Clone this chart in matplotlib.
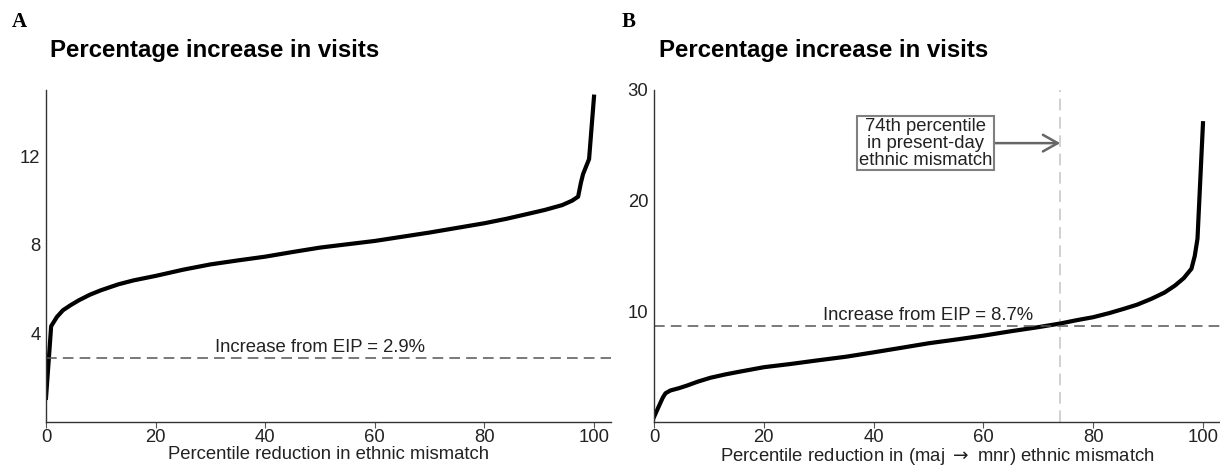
import numpy as np
import matplotlib.pyplot as plt

# panel A curve
pct_a = [0, 0.5, 0.94, 2, 3.1, 4.5, 6, 8, 10, 13.2, 16, 20, 25, 30, 35, 40, 45, 50, 55, 60,
         65, 70, 75, 80, 84, 87.7, 91, 94.2, 96, 97.1, 97.6, 98, 99.1, 100]
inc_a = [1.09, 2.8, 4.33, 4.75, 5.05, 5.28, 5.5, 5.75, 5.95, 6.22, 6.4, 6.6, 6.88, 7.12, 7.3, 7.47, 7.68, 7.88, 8.03, 8.18,
         8.37, 8.56, 8.77, 8.98, 9.18, 9.39, 9.58, 9.8, 10.0, 10.18, 10.8, 11.2, 11.88, 14.7]
eip_a = 2.9

# panel B curve
pct_b = [0, 0.5, 1.07, 1.6, 2.1, 3, 4.5, 6, 8, 10.3, 13, 15.3, 20, 25, 29.5, 35, 40.2, 45, 50.1, 55,
         60.1, 65, 70, 74, 77, 80, 83, 85.6, 88, 90.6, 93, 94.9, 96.5, 97.9, 98.5, 99, 100]
inc_b = [0.45, 1.0, 1.63, 2.2, 2.6, 2.85, 3.05, 3.29, 3.65, 4.0, 4.3, 4.52, 4.95, 5.25, 5.55, 5.9, 6.31, 6.7, 7.12, 7.45,
         7.81, 8.2, 8.57, 8.9, 9.2, 9.47, 9.85, 10.23, 10.6, 11.13, 11.7, 12.33, 13.0, 13.85, 15.0, 16.56, 27.0]
eip_b = 8.7
pct_today = 74

plt.rcParams['font.family'] = ['Liberation Sans', 'DejaVu Sans']

fig = plt.figure(figsize=(12.2, 4.66), dpi=100)
ax_a = fig.add_axes([46/1220, 1-422/466, 565/1220, 332/466])
ax_b = fig.add_axes([654/1220, 1-422/466, 566/1220, 332/466])

FS = 13.3

def style(ax, ylim, yticks, xlabel):
    ax.set_xlim(0, 103.1)
    ax.set_ylim(*ylim)
    ax.set_yticks(yticks)
    ax.set_xticks([0, 20, 40, 60, 80, 100])
    for s in ['top', 'right']:
        ax.spines[s].set_visible(False)
    for s in ['left', 'bottom']:
        ax.spines[s].set_color('#333333')
        ax.spines[s].set_linewidth(1.0)
    ax.tick_params(axis='y', length=0, labelsize=FS, pad=4, colors='#222222')
    ax.tick_params(axis='x', length=4, width=0.8, color='#555555', labelsize=FS, pad=1, labelcolor='#222222')
    ax.set_xlabel(xlabel, fontsize=FS, labelpad=0, color='#222222')

# A
ax_a.plot(pct_a, inc_a, color='black', lw=3, solid_joinstyle='round')
ax_a.axhline(eip_a, color='#555555', lw=1.1, ls=(0, (7, 4)))
ax_a.text(50, eip_a + 0.1, 'Increase from EIP = 2.9%', ha='center', va='bottom', fontsize=FS, color='#222222')
style(ax_a, (0, 15.0), [4, 8, 12], 'Percentile reduction in ethnic mismatch')

# B
ax_b.axvline(pct_today, color='#c8c8c8', lw=1.2, ls=(0, (7, 4)))
ax_b.plot(pct_b, inc_b, color='black', lw=3, solid_joinstyle='round')
ax_b.axhline(eip_b, color='#555555', lw=1.1, ls=(0, (7, 4)))
ax_b.text(50, eip_b + 0.2, 'Increase from EIP = 8.7%', ha='center', va='bottom', fontsize=FS, color='#222222')
ax_b.annotate('74th percentile\nin present-day\nethnic mismatch', xy=(pct_today, 25.2), xytext=(49.5, 25.2),
              ha='center', va='center', fontsize=FS, color='#222222', linespacing=1.0,
              bbox=dict(boxstyle='square,pad=0.1', fc='white', ec='#808080', lw=1.5),
              arrowprops=dict(arrowstyle='->,head_length=0.8,head_width=0.45', color='#666666', lw=1.8,
                              shrinkA=0, shrinkB=0))
style(ax_b, (0, 30), [10, 20, 30], 'Percentile reduction in (maj $\\rightarrow$ mnr) ethnic mismatch')

# titles and panel letters
for x0, letter in [(12, 'A'), (622, 'B')]:
    fig.text(x0/1220, 1-27/466, letter, fontsize=15, fontweight='bold', family='Liberation Serif')
for x0 in [50, 659]:
    fig.text(x0/1220, 1-57/466, 'Percentage increase in visits', fontsize=17.3, fontweight='bold')

fig.savefig('out.png', dpi=100)
